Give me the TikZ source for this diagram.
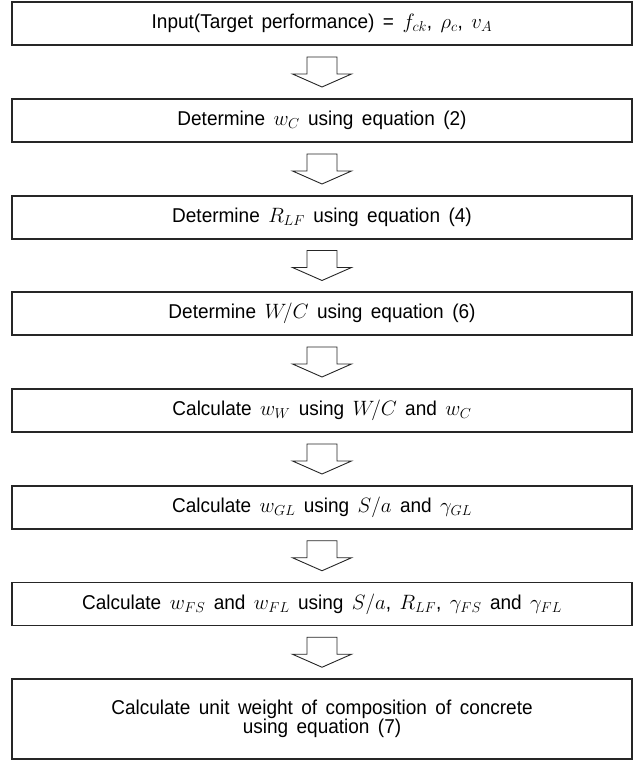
\documentclass[tikz,border=0pt]{standalone}
\usepackage{fontspec}
\setmainfont[WordSpace=1.6,FakeStretch=0.95]{Liberation Sans}
\usetikzlibrary{calc}
\tikzset{
  stepbox/.style={draw=black!85, line width=1.2pt, rectangle, minimum width=620pt, minimum height=43pt, inner sep=0pt, align=center, font=\fontsize{20}{20}\selectfont},
  blockarrow/.style={draw=black!85, line width=0.9pt, fill=white, line join=miter}
}
\newcommand{\flowarrow}[2]{%
  \coordinate (m#1) at ($(#1.south)!0.5!(#2.north)$);
  \draw[blockarrow] ($(m#1)+(-15,15)$) -- ($(m#1)+(15,15)$) -- ($(m#1)+(15,-2)$) -- ($(m#1)+(29.5,-2)$) -- ($(m#1)+(0,-15)$) -- ($(m#1)+(-29.5,-2)$) -- ($(m#1)+(-15,-2)$) -- cycle;}
\begin{document}
\begin{tikzpicture}[x=1pt,y=1pt]
\useasboundingbox (0,0) rectangle (634,761);
\node[stepbox] (b1) at (322,737.5) {Input(Target performance) = $f_{ck}$,\ $\rho_c$,\ $v_A$};
\node[stepbox] (b2) at (322,640.5) {Determine $w_C$ using equation (2)};
\node[stepbox] (b3) at (322,543.5) {Determine $R_{LF}$ using equation (4)};
\node[stepbox] (b4) at (322,447.5) {Determine $W\!/C$ using equation (6)};
\node[stepbox] (b5) at (322,350.5) {Calculate $w_W$ using $W\!/C$ and $w_C$};
\node[stepbox] (b6) at (322,253.5) {Calculate $w_{GL}$ using $S/a$ and $\gamma_{GL}$};
\node[stepbox] (b7) at (322,157) {Calculate $w_{FS}$ and $w_{FL}$ using $S/a$,\ $R_{LF}$,\ $\gamma_{FS}$ and $\gamma_{FL}$};
\node[stepbox, minimum height=80pt] (b8) at (322,42) {Calculate unit weight of composition of concrete\\[-1pt]using equation (7)};
\flowarrow{b1}{b2}
\flowarrow{b2}{b3}
\flowarrow{b3}{b4}
\flowarrow{b4}{b5}
\flowarrow{b5}{b6}
\flowarrow{b6}{b7}
\flowarrow{b7}{b8}
\end{tikzpicture}
\end{document}
